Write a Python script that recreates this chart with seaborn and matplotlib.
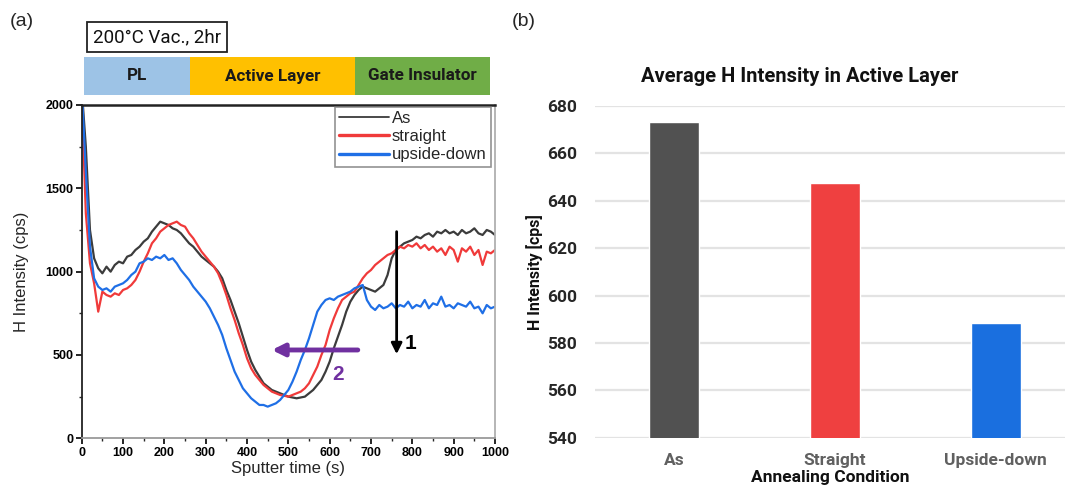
import numpy as np
import pandas as pd
import matplotlib
matplotlib.use("Agg")
import matplotlib.pyplot as plt
from matplotlib.ticker import MultipleLocator
import seaborn as sns

# ---------------- data ----------------
time_s = list(range(0, 1001, 10))

as_vals = [2100, 1750, 1250, 1080, 1020, 990, 1030, 1000, 1040, 1060,
           1050, 1090, 1100, 1130, 1150, 1180, 1200, 1240, 1270, 1300,
           1290, 1280, 1260, 1250, 1230, 1200, 1170, 1150, 1120, 1090,
           1070, 1050, 1030, 1000, 960, 890, 830, 760, 690, 610,
           530, 460, 410, 370, 330, 310, 290, 280, 270, 260,
           250, 245, 240, 245, 250, 270, 290, 320, 350, 400,
           460, 540, 610, 680, 760, 820, 860, 890, 910, 900,
           890, 880, 900, 920, 980, 1080, 1130, 1150, 1170, 1180,
           1190, 1210, 1200, 1220, 1230, 1210, 1240, 1230, 1250, 1230,
           1240, 1220, 1250, 1230, 1240, 1260, 1230, 1220, 1250, 1240,
           1220]

straight_vals = [2050, 1350, 1050, 930, 760, 880, 860, 850, 870, 860,
                 890, 900, 920, 950, 1000, 1060, 1110, 1170, 1200, 1240,
                 1260, 1280, 1290, 1300, 1280, 1270, 1230, 1200, 1160, 1120,
                 1090, 1060, 1030, 990, 930, 860, 780, 710, 630, 560,
                 480, 420, 380, 350, 320, 300, 280, 270, 260, 255,
                 250, 260, 270, 280, 300, 330, 380, 430, 500, 560,
                 650, 720, 780, 830, 850, 870, 880, 920, 960, 990,
                 1010, 1040, 1060, 1080, 1100, 1110, 1130, 1150, 1140, 1160,
                 1150, 1170, 1140, 1160, 1130, 1150, 1120, 1140, 1100, 1150,
                 1130, 1060, 1140, 1120, 1150, 1100, 1130, 1040, 1120, 1110,
                 1130]

upside_vals = [2100, 1600, 1150, 960, 910, 890, 900, 880, 910, 920,
               930, 950, 980, 1000, 1050, 1060, 1080, 1070, 1090, 1080,
               1100, 1070, 1080, 1050, 1010, 980, 950, 910, 880, 850,
               820, 780, 730, 680, 620, 540, 470, 400, 350, 300,
               270, 240, 220, 200, 200, 190, 200, 210, 230, 260,
               290, 340, 400, 470, 530, 600, 680, 760, 800, 830,
               840, 830, 850, 860, 870, 880, 900, 910, 920, 830,
               790, 770, 800, 780, 790, 810, 780, 800, 790, 820,
               780, 800, 790, 830, 780, 810, 800, 850, 790, 800,
               780, 810, 800, 790, 820, 780, 790, 750, 800, 780,
               790]

series_names = ["As", "straight", "upside-down"]
line_colors = ["#3c3c3c", "#f03a3a", "#1f6fe6"]

layer_names = ["PL", "Active Layer", "Gate Insulator"]
layer_edges = [6, 262, 661, 988]
layer_colors = ["#9dc3e6", "#ffc000", "#70ad47"]

# annotation arrows (data coords)
arrow1 = [(762, 1240), (762, 505)]
arrow2 = [(668, 530), (460, 530)]

bar_categories = ["As", "Straight", "Upside-down"]
bar_values = [673.1, 647.4, 588.6]
bar_colors = ["#515151", "#ef4040", "#1a6fdf"]

# ---------------- style ----------------
sns.set_style("white")
plt.rcParams["font.family"] = ["Liberation Sans", "DejaVu Sans"]

W, H = 1065, 488
fig = plt.figure(figsize=(W / 100, H / 100), dpi=100)

def fbox(x0, y0, x1, y1):
    return [x0 / W, 1 - y1 / H, (x1 - x0) / W, (y1 - y0) / H]

# ---------------- panel (a) ----------------
ax1 = fig.add_axes(fbox(81.7, 105, 495, 438.3))
df = pd.DataFrame({
    "time": time_s * 3,
    "intensity": as_vals + straight_vals + upside_vals,
    "condition": [series_names[0]] * len(time_s) + [series_names[1]] * len(time_s)
                 + [series_names[2]] * len(time_s),
})
sns.lineplot(data=df, x="time", y="intensity", hue="condition",
             palette=dict(zip(series_names, line_colors)), linewidth=1.6,
             ax=ax1, legend=True)
ax1.set_xlim(0, 1000)
ax1.set_ylim(0, 2000)
ax1.xaxis.set_major_locator(MultipleLocator(100))
ax1.xaxis.set_minor_locator(MultipleLocator(50))
ax1.yaxis.set_major_locator(MultipleLocator(500))
ax1.yaxis.set_minor_locator(MultipleLocator(250))
ax1.tick_params(axis="both", which="major", direction="out", length=4, width=1.2,
                labelsize=9, colors="black", pad=2)
ax1.tick_params(axis="both", which="minor", direction="out", length=2.5, width=1.0)
ax1.tick_params(axis="x", which="both", bottom=True)
ax1.tick_params(axis="y", which="both", left=True)
for lab in ax1.get_xticklabels() + ax1.get_yticklabels():
    lab.set_fontweight("bold")
ax1.set_xlabel("Sputter time (s)", fontsize=12, labelpad=2)
ax1.set_ylabel("H Intensity (cps)", fontsize=12, labelpad=12)
ax1.spines["top"].set_color("#222222")
ax1.spines["top"].set_linewidth(1.8)
ax1.spines["left"].set_color("#222222")
ax1.spines["left"].set_linewidth(1.3)
ax1.spines["bottom"].set_color("#9a9a9a")
ax1.spines["bottom"].set_linewidth(1.3)
ax1.spines["right"].set_color("#b0b0b0")
ax1.spines["right"].set_linewidth(1.3)

handles, labels = ax1.get_legend_handles_labels()
leg = ax1.legend(handles, labels, loc="upper right", bbox_to_anchor=(0.99, 0.995),
                 fontsize=12, frameon=True, fancybox=False, handlelength=3.0,
                 handletextpad=0.15, labelspacing=0.2, borderpad=0.25,
                 borderaxespad=0.0)
leg.get_frame().set_edgecolor("#777777")
leg.get_frame().set_linewidth(1.2)
for h in leg.get_lines():
    h.set_linewidth(2.4)
leg.get_lines()[0].set_linewidth(1.3)

ax1.annotate("", xy=arrow1[1], xytext=arrow1[0],
             arrowprops=dict(arrowstyle="-|>", color="black", lw=2.0,
                             mutation_scale=16, shrinkA=0, shrinkB=0))
ax1.text(782, 570, "1", fontsize=15, fontweight="bold", color="black",
         va="center", ha="left")
ax1.annotate("", xy=arrow2[1], xytext=arrow2[0],
             arrowprops=dict(arrowstyle="-|>", color="#7030a0", lw=3.5,
                             mutation_scale=18, shrinkA=0, shrinkB=0))
ax1.text(607, 385, "2", fontsize=15, fontweight="bold", color="#7030a0",
         va="center", ha="left")

fam = ["Roboto", "DejaVu Sans"]

# header bands
hx = fig.add_axes(fbox(81.7, 57, 495, 95))
widths = [layer_edges[i + 1] - layer_edges[i] for i in range(len(layer_names))]
hdf = pd.DataFrame({"layer": layer_names, "width": widths, "left": layer_edges[:-1]})
hx.barh(y=[0] * len(layer_names), width=hdf["width"], left=hdf["left"],
        height=1.0, color=layer_colors, edgecolor="none")
for name, l, w in zip(layer_names, hdf["left"], hdf["width"]):
    hx.text(l + w / 2, 0, name, ha="center", va="center", fontsize=12.3,
            fontweight="bold", color="#1a1a1a", family=fam)
hx.set_xlim(0, 1000)
hx.set_ylim(-0.5, 0.5)
hx.axis("off")

fig.text(93 / W, 1 - 37 / H, "200°C Vac., 2hr", fontsize=13.5, va="center", ha="left",
         family=fam, color="#111111",
         bbox=dict(boxstyle="square,pad=0.3", facecolor="white",
                   edgecolor="#222222", linewidth=1.3))

fig.text(10 / W, 1 - 22 / H, "(a)", fontsize=14, va="center", ha="left")
fig.text(512 / W, 1 - 22 / H, "(b)", fontsize=14, va="center", ha="left")

# ---------------- panel (b) ----------------
ax2 = fig.add_axes(fbox(595, 106, 1065, 437.7))
bdf = pd.DataFrame({"condition": bar_categories, "value": bar_values})
sns.barplot(data=bdf, x="condition", y="value", hue="condition",
            palette=dict(zip(bar_categories, bar_colors)), width=0.31,
            ax=ax2, legend=False, saturation=1.0)
ax2.set_ylim(540, 680)
ax2.set_xlim(-0.49, 2.43)
ax2.yaxis.set_major_locator(MultipleLocator(20))
ax2.grid(axis="y", color="#e3e3e3", linewidth=1.6)
ax2.grid(axis="x", visible=False)
ax2.set_axisbelow(True)
for s in ax2.spines.values():
    s.set_visible(False)
ax2.tick_params(axis="y", length=0, pad=13)
ax2.tick_params(axis="x", length=0, pad=11)
for lab in ax2.get_yticklabels():
    lab.set_fontsize(12.5)
    lab.set_fontweight("bold")
    lab.set_color("#262626")
    lab.set_family(fam)
for lab in ax2.get_xticklabels():
    lab.set_fontsize(12.5)
    lab.set_fontweight("bold")
    lab.set_color("#606060")
    lab.set_family(fam)
ax2.set_xlabel("Annealing Condition", fontsize=12.5, fontweight="bold",
               color="#111111", family=fam)
ax2.xaxis.set_label_coords(0.5, -0.098)
ax2.set_ylabel("H Intensity [cps]", fontsize=11.5, fontweight="bold",
               color="#111111", family=fam, labelpad=3)
fig.text(800 / W, 1 - 76 / H, "Average H Intensity in Active Layer", fontsize=14.5,
         fontweight="bold", ha="center", va="center", family=fam, color="#111111")

fig.savefig("out.png", dpi=100)
